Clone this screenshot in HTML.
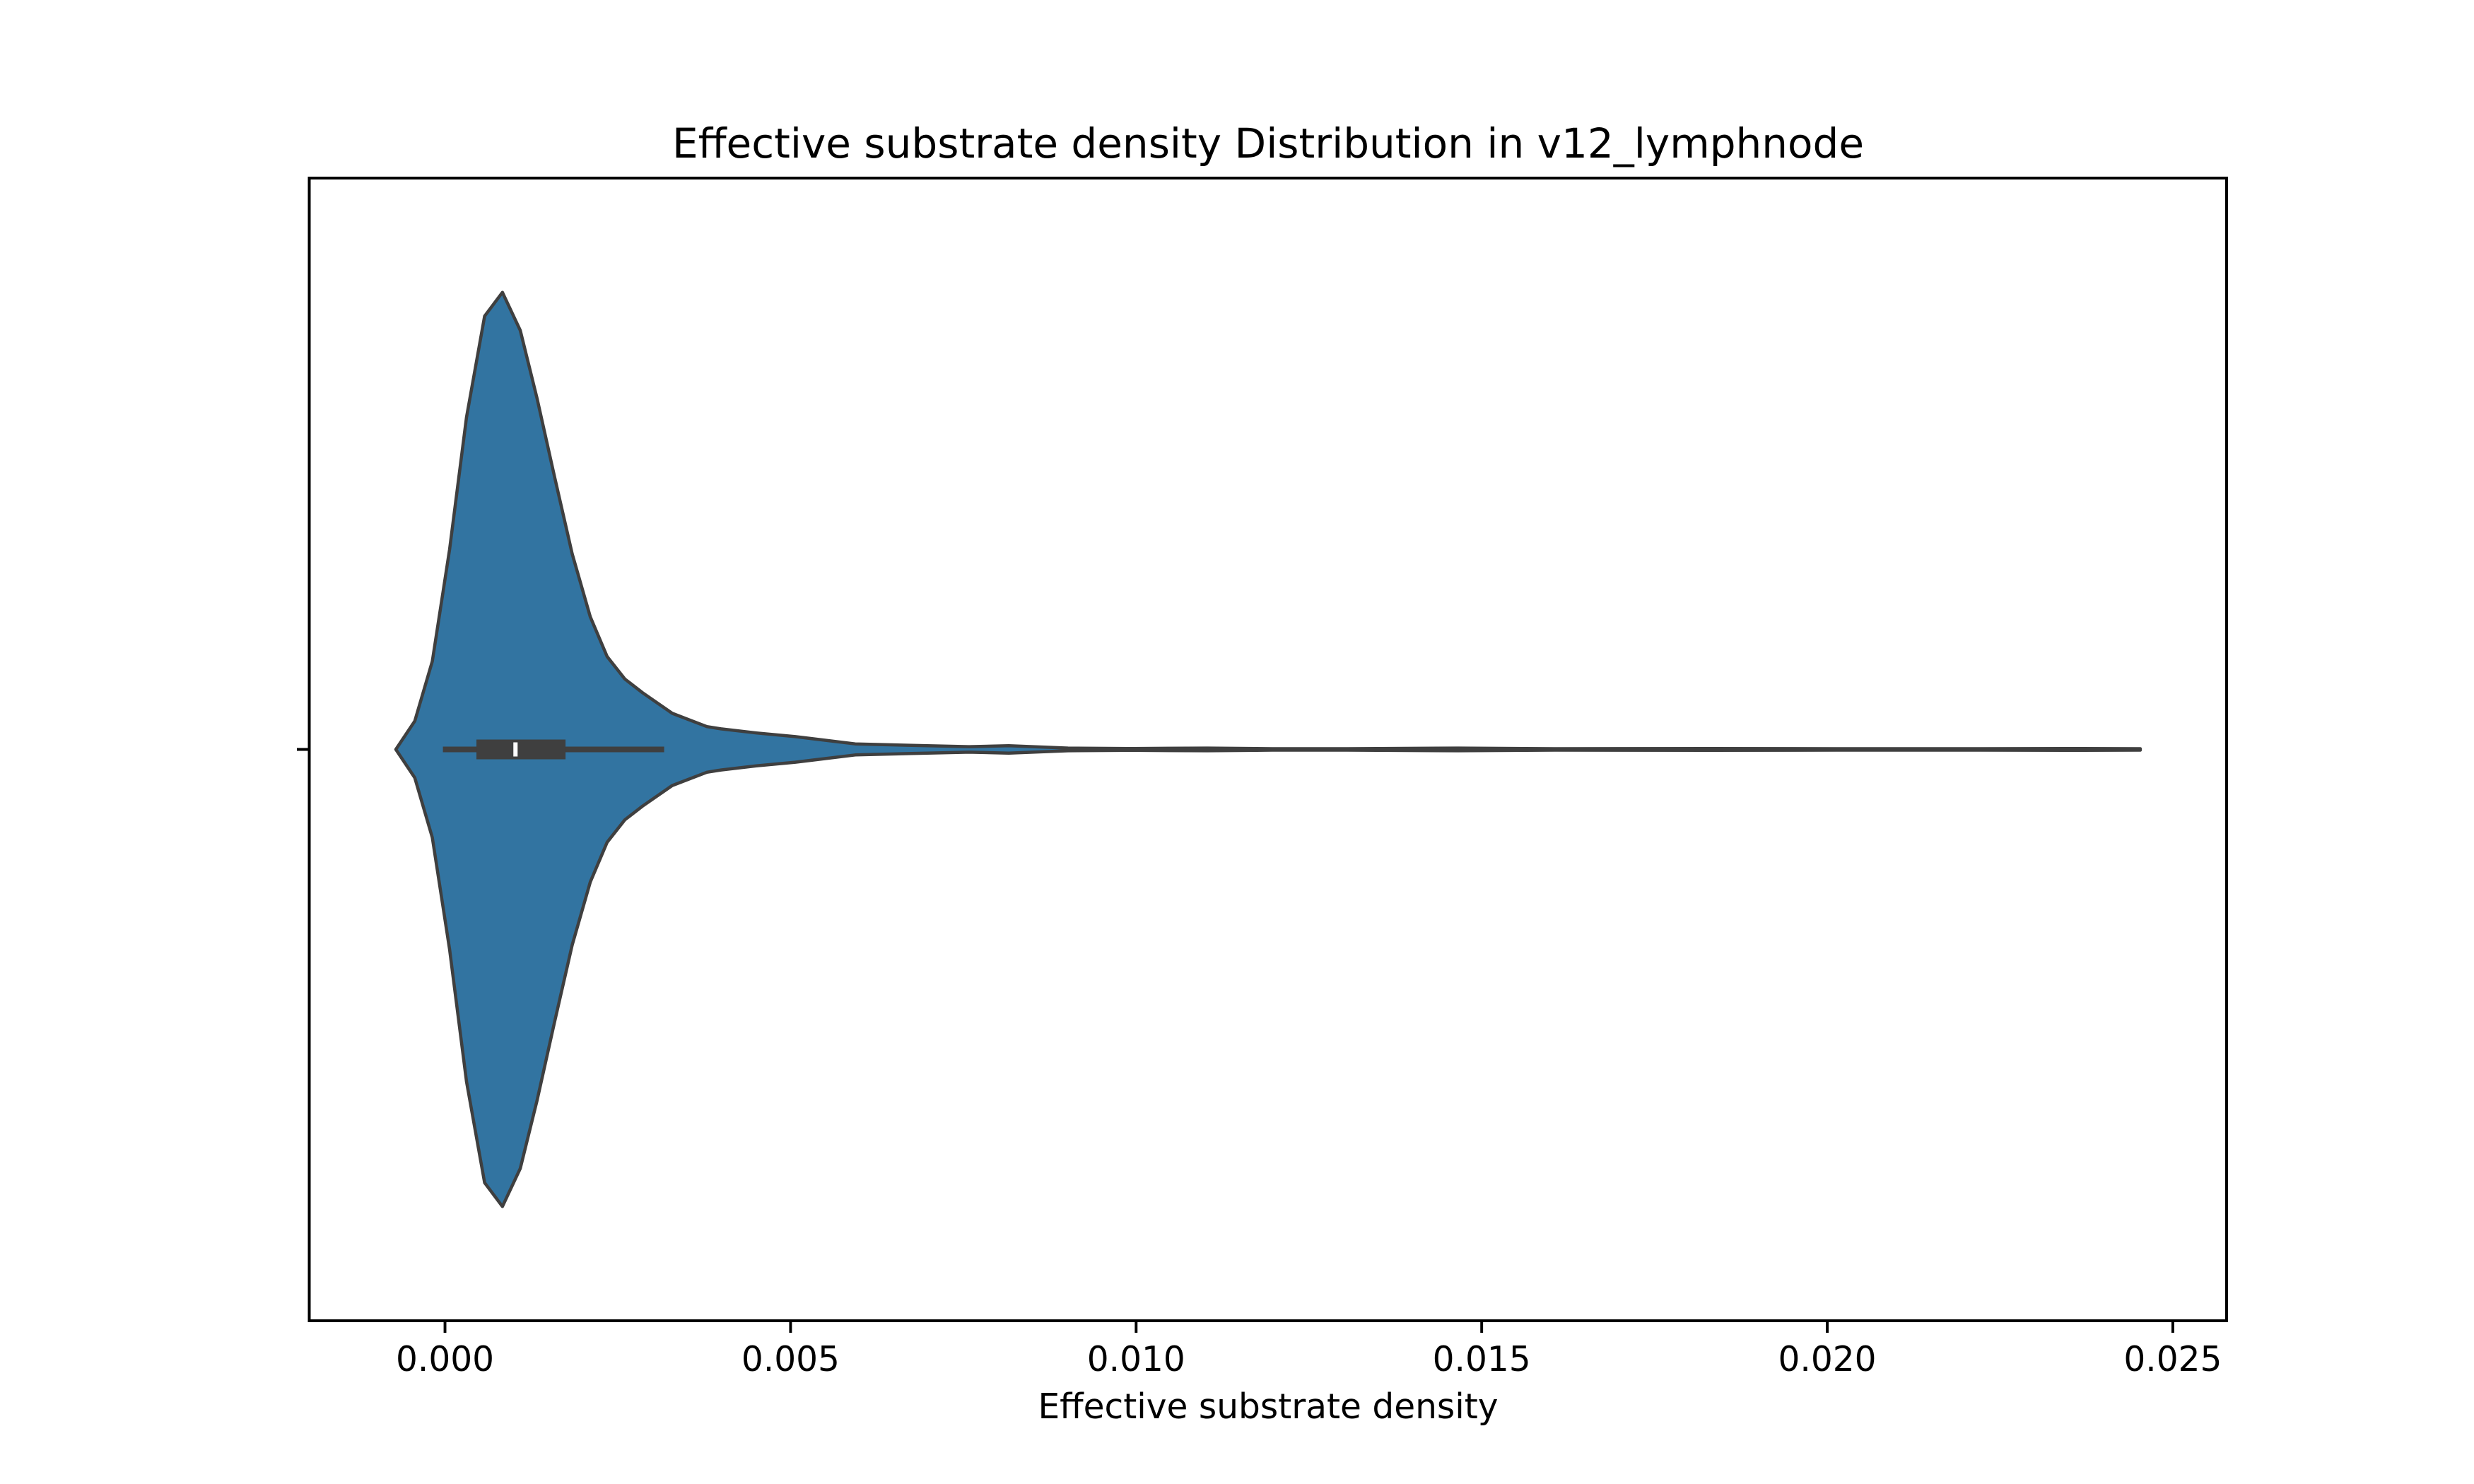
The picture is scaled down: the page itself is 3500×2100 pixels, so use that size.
<!DOCTYPE html>
<html><head><meta charset="utf-8"><style>
html,body{margin:0;padding:0;background:#fff;}
svg{display:block;font-family:"DejaVu Sans","Liberation Sans",sans-serif;}
</style></head><body>
<svg id="chart" width="3500" height="2100" viewBox="0 0 3500 2100" xmlns="http://www.w3.org/2000/svg">
<rect x="0" y="0" width="3500" height="2100" fill="#fff"/>
<text x="1794" y="223" font-size="58" text-anchor="middle" fill="#000">Effective substrate density Distribution in v12_lymphnode</text>
<g id="plot"></g>
<g id="xaxis"></g>
<text x="1794" y="2007" font-size="48.6" text-anchor="middle" fill="#000">Effective substrate density</text>
<rect x="437.5" y="252" width="2712.5" height="1617" fill="none" stroke="#000" stroke-width="4"/>
<line x1="420" y1="1060.5" x2="437.5" y2="1060.5" stroke="#000" stroke-width="3.9"/>
</svg>
<script>
const gridValues = [-0.000711,-0.000437,-0.000183,0.0000665,0.000312,0.000573,0.000831,0.001089,0.001332,0.001586,0.001841,0.002102,0.002347,0.002603,0.002859,0.003288,0.003789,0.003994,0.004505,0.005068,0.005937,0.006755,0.007583,0.008156,0.009015,0.009925,0.011030,0.011971,0.012993,0.014660,0.016061,0.018321,0.020152,0.022197,0.023701,0.024529];
const densities = [0,0.062,0.193,0.437,0.727,0.948,1,0.917,0.768,0.596,0.428,0.290,0.203,0.154,0.124,0.079,0.05,0.045,0.036,0.028,0.012,0.009,0.006,0.008,0.003,0.002,0.003,0.0015,0.0015,0.003,0.0015,0.002,0.0015,0.0015,0.002,0.0015];
const boxStats = [-0.00003, 0.000455, 0.00102, 0.001744, 0.003171]; // whislo, q1, median, q3, whishi
const xTicks = [0, 0.005, 0.010, 0.015, 0.020, 0.025];
const xTickLabels = ["0.000","0.005","0.010","0.015","0.020","0.025"];

const NS = "http://www.w3.org/2000/svg";
const X0 = 437.5, X1 = 3150, XMIN = -0.001964, XMAX = 0.025778;
const xs = v => X0 + (v - XMIN) / (XMAX - XMIN) * (X1 - X0);
const YC = 1060.5, CAT = 1617;
const hw = d => d * 0.4 * CAT;
function mk(tag, attrs, parent){ const e = document.createElementNS(NS, tag); for (const k in attrs) e.setAttribute(k, attrs[k]); parent.appendChild(e); return e; }

const plotG = document.getElementById('plot');
const maxD = Math.max(...densities);
const upperPts = [], lowerPts = [];
gridValues.forEach((v,i)=>{ const x = xs(v), h = hw(densities[i]/maxD); upperPts.push(x.toFixed(1)+','+(YC-h).toFixed(1)); lowerPts.unshift(x.toFixed(1)+','+(YC+h).toFixed(1)); });
const violin = mk('polygon', {points: upperPts.concat(lowerPts).join(' '), fill:'#3274a1', stroke:'#3f3f3f', 'stroke-width':4.5, 'stroke-linejoin':'round'}, plotG);



const whisk = mk('line', {x1: xs(boxStats[0]), y1: YC, x2: xs(boxStats[4]), y2: YC, stroke:'#3f3f3f', 'stroke-width':8}, plotG);


const box = mk('rect', {x: xs(boxStats[1]), y: YC-14, width: xs(boxStats[3])-xs(boxStats[1]), height: 28, fill:'#3f3f3f'}, plotG);


const med = mk('rect', {x: xs(boxStats[2])-3, y: YC-10, width: 6, height: 20, fill:'#fff'}, plotG);



const xa = document.getElementById('xaxis');
xTicks.forEach((t,i)=>{
  const x = xs(t);
  const tk = mk('line', {x1:x, y1:1869, x2:x, y2:1886, stroke:'#000', 'stroke-width':3.9}, xa);
  
  
  const lb = mk('text', {x:x, y:1940, 'font-size':48.6, 'text-anchor':'middle', fill:'#000'}, xa);
  lb.textContent = xTickLabels[i];
  
  
});
</script>
</body></html>
